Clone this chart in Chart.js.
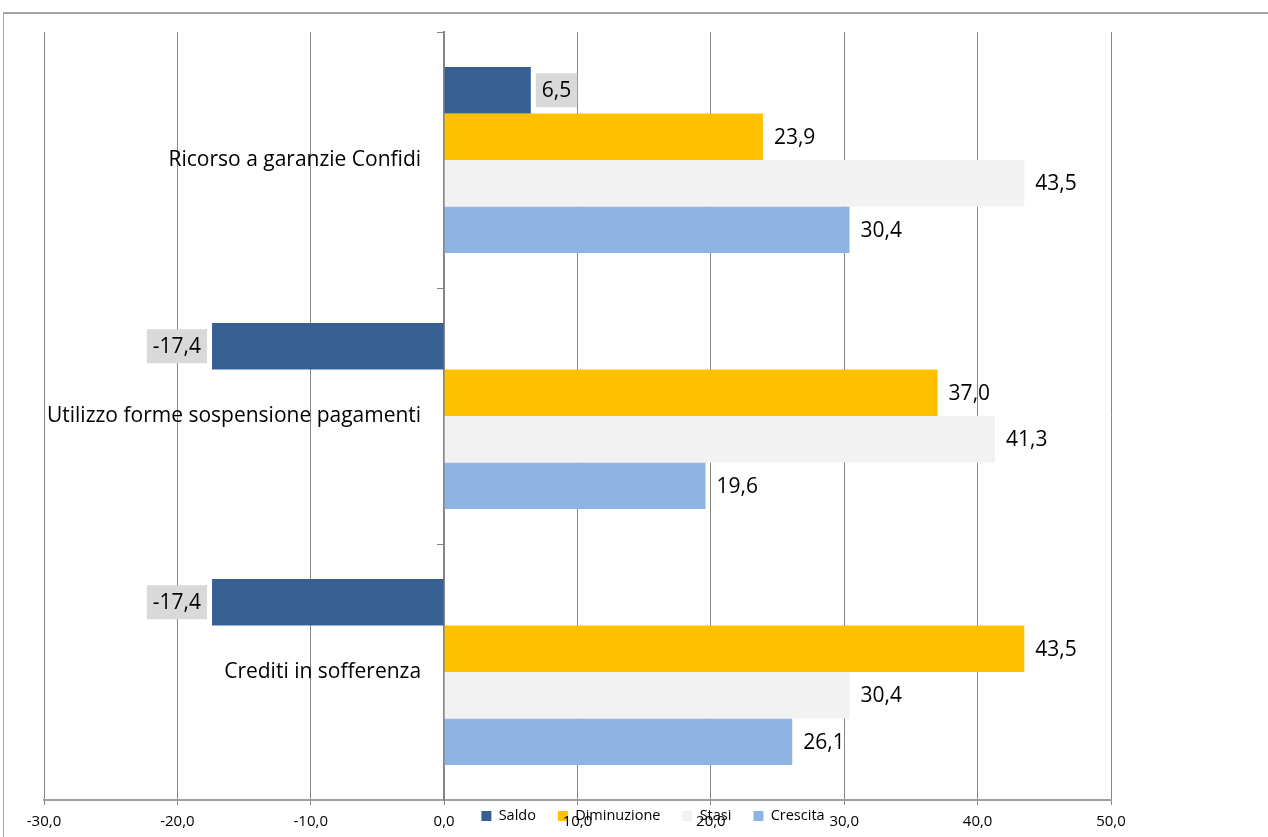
<!DOCTYPE html>
<html>
<head>
<meta charset="utf-8">
<script src="https://cdn.jsdelivr.net/npm/chart.js@4.4.1/dist/chart.umd.min.js"></script>
<style>
  html, body { margin: 0; padding: 0; background: #fff; overflow: hidden; }
  #frame {
    position: absolute; left: 3px; top: 12px; width: 1300px; height: 900px;
    border-top: 2px solid #a6a6a6; border-left: 1px solid #a6a6a6; box-sizing: border-box;
  }
  #wrap { position: absolute; left: 0; top: 0; width: 1268px; height: 837px; }
</style>
</head>
<body>
<div id="frame"></div>
<div id="wrap"><canvas id="c" width="1268" height="837" style="width:1268px;height:837px"></canvas></div>
<script>
// Categories (top to bottom) and the four series
const categories = ['Ricorso a garanzie Confidi', 'Utilizzo forme sospensione pagamenti', 'Crediti in sofferenza'];
const seriesNames = ['Saldo', 'Diminuzione', 'Stasi', 'Crescita'];
const saldo       = [6.5, -17.4, -17.4];
const diminuzione = [23.9, 37.0, 43.5];
const stasi       = [43.5, 41.3, 30.4];
const crescita    = [30.4, 19.6, 26.1];

// Value axis range
const xMin = -30;
const xMax = 50;
const xStep = 10;

const seriesColors = ['#376092', '#FFC000', '#F2F2F2', '#8EB4E3'];
const labelBoxColors = ['#D9D9D9', null, null, null];

const FONT = '"Open Sans", "Liberation Sans", sans-serif';
const fmt = v => Number(v).toFixed(1).replace('.', ',');

// Plot frame inside the canvas
const PAD = { left: 44, top: 32, right: 157 };
const CANVAS_W = 1268;
// Category names end this many pixels left of the zero line
const CAT_LABEL_GAP = 23;
const catLabelValue = -CAT_LABEL_GAP * (xMax - xMin) / (CANVAS_W - PAD.left - PAD.right);

// Value labels at the end of every bar (boxed for the balance series)
const valueLabels = {
  id: 'valueLabels',
  afterDatasetsDraw(chart) {
    const ctx = chart.ctx;
    ctx.save();
    ctx.font = '21px ' + FONT;
    ctx.textBaseline = 'middle';
    ctx.textAlign = 'left';
    chart.data.datasets.forEach((ds, di) => {
      const meta = chart.getDatasetMeta(di);
      meta.data.forEach((bar, i) => {
        const v = ds.data[i];
        const txt = fmt(v);
        const w = ctx.measureText(txt).width;
        const gap = 11;
        const tx = v >= 0 ? bar.x + gap : bar.x - gap - w;
        if (labelBoxColors[di]) {
          ctx.fillStyle = labelBoxColors[di];
          ctx.fillRect(tx - 6, bar.y - 17, w + 12, 34);
        }
        ctx.fillStyle = '#000';
        ctx.fillText(txt, tx, bar.y + 1);
      });
    });
    ctx.restore();
  }
};

// Legend sits over the axis labels, centred on the full chart frame
const legendPlacement = {
  id: 'legendPlacement',
  afterLayout(chart) {
    const L = chart.legend;
    if (!L) return;
    const lab = L.options.labels;
    const fs = lab.font.size;
    const itemH = Math.max(fs, lab.boxHeight);
    const top = 816 - itemH / 2 - lab.padding;
    const h = lab.padding * 2 + itemH;
    const dx = 653 - (L.left + L.right) / 2;
    L.top = top; L.bottom = top + h; L.height = h;
    L.left += dx; L.right += dx;
  }
};

function draw() {
  const values = [saldo, diminuzione, stasi, crescita];
  new Chart(document.getElementById('c'), {
    type: 'bar',
    data: {
      labels: categories,
      datasets: seriesNames.map((name, k) => ({
        label: name,
        data: values[k],
        backgroundColor: seriesColors[k],
        borderWidth: 0,
        categoryPercentage: 0.727,
        barPercentage: 1.0
      }))
    },
    options: {
      indexAxis: 'y',
      responsive: false,
      animation: false,
      layout: { padding: { left: PAD.left, top: PAD.top, right: PAD.right, bottom: 0 } },
      scales: {
        x: {
          type: 'linear',
          min: xMin,
          max: xMax,
          ticks: {
            stepSize: xStep,
            callback: v => fmt(v),
            font: { family: FONT, size: 15 },
            color: '#000',
            padding: 8,
            maxRotation: 0
          },
          grid: { color: '#868686', lineWidth: 1, drawTicks: true, tickLength: 5 },
          border: { color: '#a0a0a0', width: 2 },
          afterFit(scale) { scale.height = 32; }
        },
        // category names, drawn just left of the zero line
        y: {
          type: 'category',
          position: { x: catLabelValue },
          grid: { display: false },
          border: { display: false },
          ticks: { font: { family: FONT, size: 21 }, color: '#000' }
        },
        // the vertical axis line at zero with its short tick marks
        yAxisLine: {
          axis: 'y',
          type: 'category',
          position: { x: 0 },
          offset: true,
          grid: { drawOnChartArea: false, drawTicks: true, tickLength: 6, color: '#868686', offset: true },
          border: { color: '#868686', width: 2 },
          ticks: { display: false }
        }
      },
      plugins: {
        legend: {
          position: 'bottom',
          maxHeight: 5,
          labels: {
            boxWidth: 10, boxHeight: 10, padding: 22,
            font: { family: FONT, size: 14.5 }, color: '#000'
          }
        },
        tooltip: { enabled: false }
      }
    },
    plugins: [valueLabels, legendPlacement]
  });
}

if (document.fonts && document.fonts.load) {
  Promise.all([document.fonts.load('21px "Open Sans"'), document.fonts.load('15px "Open Sans"')]).then(draw, draw);
} else {
  draw();
}
</script>
</body>
</html>
